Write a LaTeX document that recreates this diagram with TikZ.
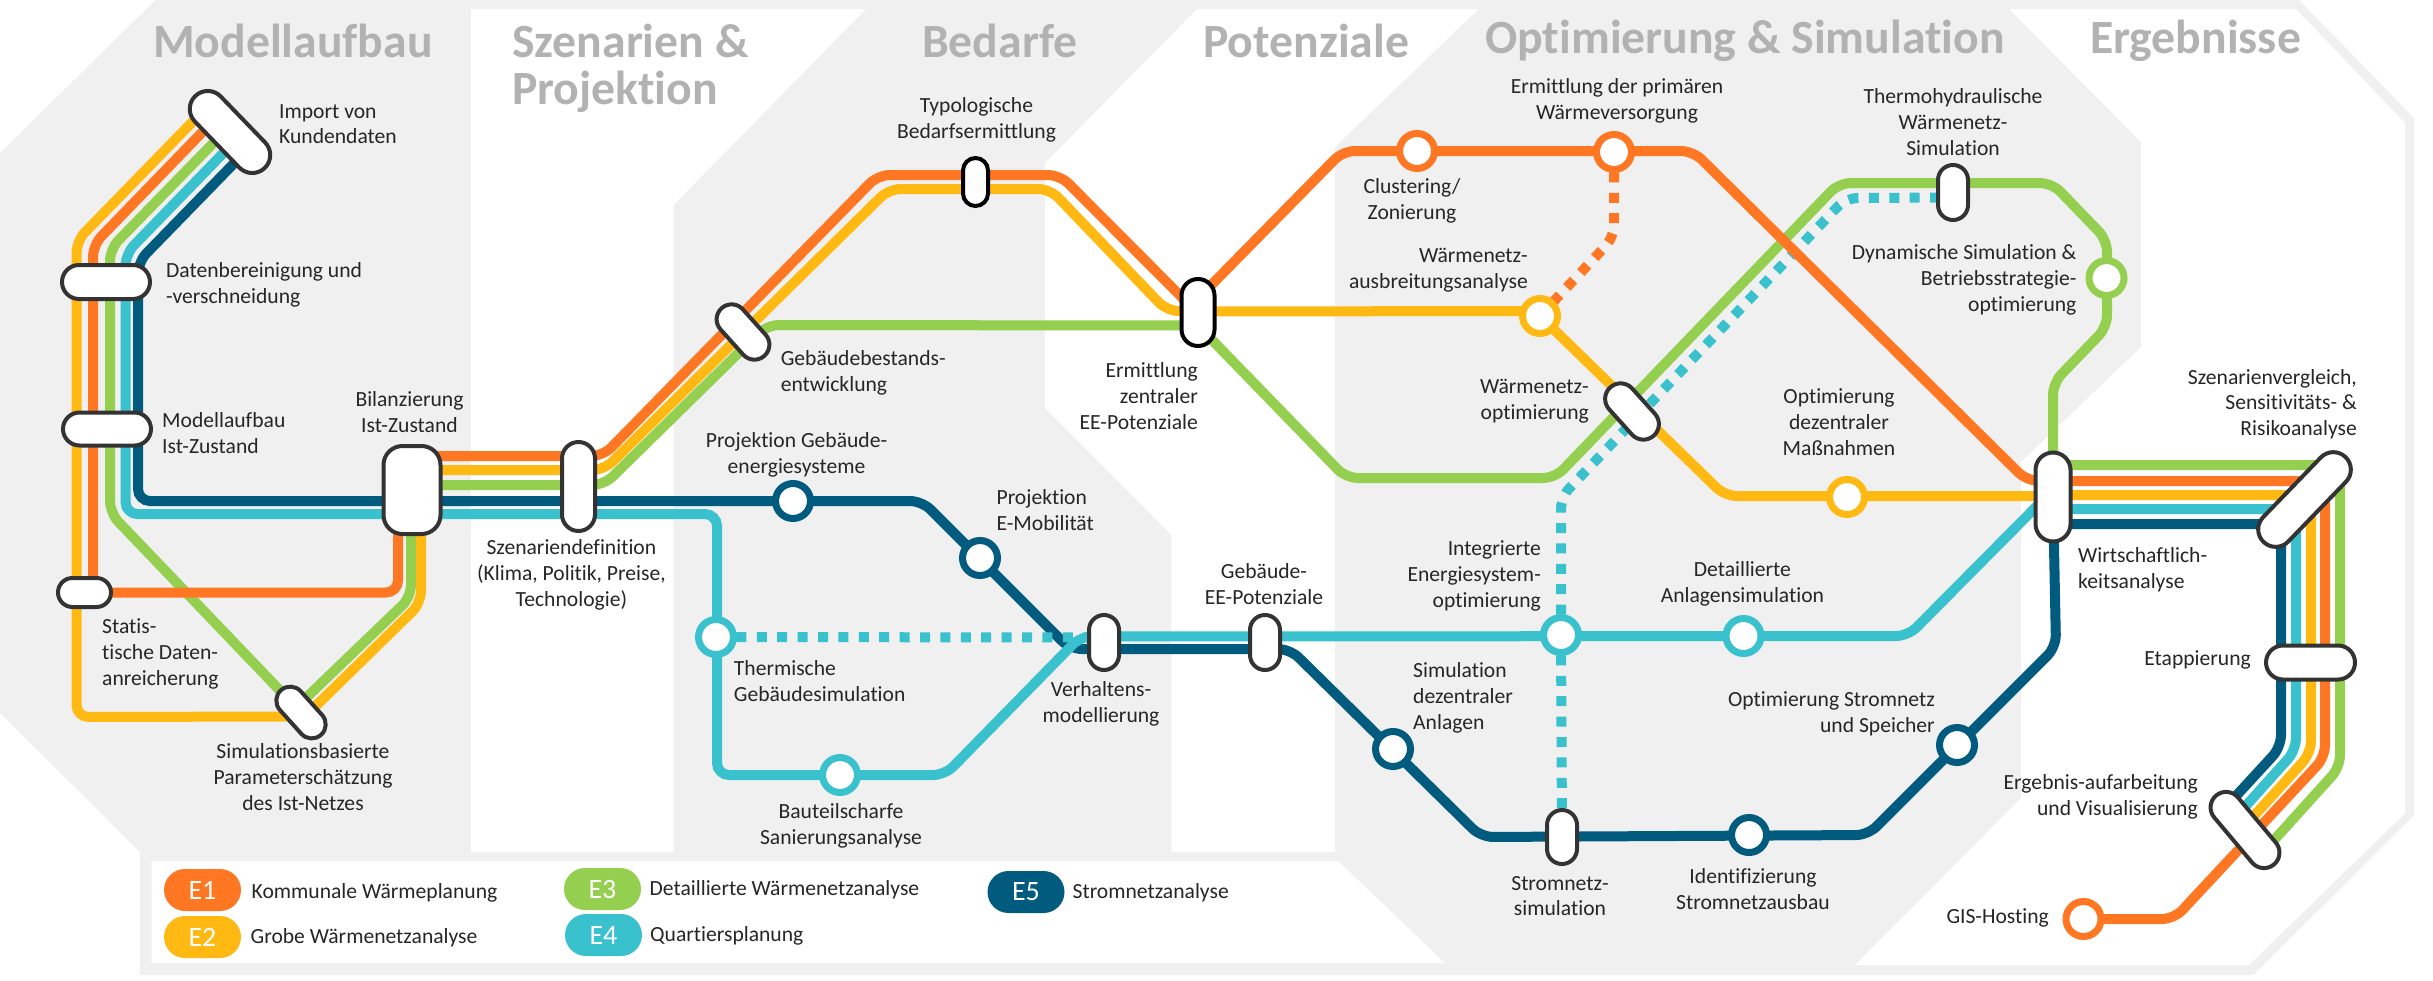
\documentclass[tikz,border=0pt]{standalone}
\usepackage{fontspec}
\setmainfont{Carlito}[Ligatures=CommonOff]
\usepackage{xcolor}
\usepackage{tikz}
\usetikzlibrary{shapes.misc}

\definecolor{eone}{HTML}{FF7722}
\definecolor{etwo}{HTML}{FFB912}
\definecolor{ethree}{HTML}{95CF4F}
\definecolor{efour}{HTML}{39C1CE}
\definecolor{efive}{HTML}{005B7F}
\definecolor{panelgray}{HTML}{F0F0F0}
\definecolor{titlegray}{HTML}{B2B2B2}
\definecolor{halterand}{HTML}{333333}

\pgfdeclarelayer{strecken}
\pgfsetlayers{strecken,main}

\tikzset{
  strecke/.style={line width=10pt, rounded corners=12pt},
  lineone/.style={strecke, draw=eone},
  linetwo/.style={strecke, draw=etwo},
  linethree/.style={strecke, draw=ethree},
  linefour/.style={strecke, draw=efour},
  linefive/.style={strecke, draw=efive},
  punkte/.style={dash pattern=on 10pt off 10.4pt},
  pill/.style n args={3}{rounded rectangle, draw=halterand, line width=4pt, fill=white,
    inner sep=0pt, minimum width=#1, minimum height=#2, rotate=#3},
  halt/.style={circle, draw=#1, line width=7pt, fill=white, inner sep=0pt, minimum size=35pt},
  lbl/.style={font=\fontsize{21.6}{25.7}\selectfont, inner sep=0pt, align=center, text=black!85},
  lbll/.style={lbl, align=left, anchor=west},
  lblr/.style={lbl, align=right, anchor=east},
  heading/.style={font=\fontsize{47.7}{51}\selectfont\bfseries, text=titlegray, inner sep=0pt, anchor=west},
  legpill/.style={rounded rectangle, fill=#1, text=white, inner sep=0pt, minimum width=77pt,
    minimum height=42pt, font=\fontsize{28}{30}\selectfont},
}

\begin{document}
\begin{tikzpicture}[x=1pt,y=-1pt]
\useasboundingbox (0,0) rectangle (2433,980);

\begin{scope}
\node[heading] (tmodell) at (153,41) {Modellaufbau};
\node[heading] (tszen) at (512,41) {Szenarien \&};
\node[heading] (tproj) at (512,92) {Projektion};
\node[heading] (tbedarf) at (922,41) {Bedarfe};
\node[heading] (tpot) at (1203,41) {Potenziale};
\node[heading] (topt) at (1485,41) {Optimierung \& Simulation};
\node[heading] (terg) at (2090,41) {Ergebnisse};
\end{scope}

% stations
\node[pill={100}{36}{-46}] (import) at (230,132) {};
\node[pill={88}{34}{0}] (datab) at (106,282) {};
\node[pill={88}{33}{0}] (modell) at (107,429) {};
\node[pill={53}{29}{0}] (statist) at (84.5,592.5) {};
\node[pill={60}{28}{-48}] (simbas) at (301,712.5) {};
\node[rectangle, rounded corners=19pt, draw=halterand, line width=4pt, fill=white, minimum width=57pt, minimum height=88pt] (bilanz) at (412,490) {};
\node[pill={89}{33}{90}] (szen) at (578.5,486.5) {};
\node[pill={64}{30}{-48}] (gebest) at (743,332) {};
\node[pill={48}{25}{90}, draw=black] (typo) at (975.5,182) {};
\node[pill={67}{33}{90}, draw=black] (eezentral) at (1198,312.5) {};
\node[pill={55}{30}{90}] (verh) at (1104,642.5) {};
\node[pill={55}{30}{90}] (gebee) at (1265,642.5) {};
\node[pill={54}{30}{90}] (stromsim) at (1562,837) {};
\node[pill={65}{31}{-48}] (wopt) at (1632,411.5) {};
\node[pill={55}{30}{90}] (thermo) at (1953,192.5) {};
\node[pill={89}{35}{90}] (wirt) at (2053,497) {};
\node[pill={118}{35}{46}] (sens) at (2304.5,499.5) {};
\node[pill={89}{34}{0}] (etapp) at (2310.5,662.5) {};
\node[pill={90}{31}{-50}] (ergeb) at (2245,830) {};

\node[halt=efive] (projgeb) at (793,501) {};
\node[halt=efive] (emob) at (980,558) {};
\node[halt=efour] (thermgeb) at (716,637) {};
\node[halt=efour] (bauteil) at (840,775) {};
\node[halt=efour] (integr) at (1561,635) {};
\node[halt=efour] (anlagen) at (1743.5,636) {};
\node[halt=efive] (simdez) at (1393,749) {};
\node[halt=efive] (optstrom) at (1957,745) {};
\node[halt=efive] (ident) at (1749,835) {};
\node[halt=eone] (gis) at (2083.5,919) {};
\node[halt=eone] (cluster) at (1417,151) {};
\node[halt=eone] (primaer) at (1614,152) {};
\node[halt=etwo] (wausb) at (1540,316) {};
\node[halt=etwo] (optdez) at (1847,497) {};
\node[halt=ethree] (dynsim) at (2106.5,278) {};

\begin{pgfonlayer}{strecken}
\fill[panelgray] (155.6,0) -- (0,153) -- (0,713) -- (140,852) -- (140,975) -- (2253.5,975) -- (2414,815) -- (2414,118) -- (2299,0) -- cycle;
\fill[white] (471,9) -- (866,9) -- (673.5,205) -- (673.5,852) -- (471,852) -- cycle;
\fill[white] (1197,9) -- (1045,163) -- (1045,408) -- (1171.4,535) -- (1171.4,852) -- (1335,852) -- (1335,147) -- (1478.6,9) -- cycle;
\fill[white] (2009,9) -- (2296,9) -- (2405,123) -- (2405,813) -- (2249,965) -- (1855,965) -- (2021,798) -- (2021,462) -- (2141,347) -- (2141,142) -- cycle;
\fill[white] (151.5,861) -- (1338,861) -- (1445,963) -- (151.5,963) -- cycle;

% E5
\draw[linefive] ([shift={(17.5,17.5)}]import.center) -- (138,262) -- (138,501) -- (922,501) -- (1070,649) -- ([shift={(0,6.5)}]verh.center);
\draw[linefive] ([shift={(0,6.5)}]verh.center) -- (1290,649) -- (1481,837) -- (1868,835) -- (2056,647) -- (wirt.center);
\draw[linefive] ([shift={(0,27)}]wirt.center) -- (2281,524) -- (2281,747) -- ([shift={(-21,-21)}]ergeb.center);
% E3
\draw[linethree] ([shift={(-3,-3)}]import.center) -- (110,249) -- (110,513) -- (simbas.center);
\draw[linethree] ([shift={(-5,-5)}]simbas.center) -- (411,597) -- ([shift={(-1,0)}]bilanz.center);
\draw[linethree] ([shift={(0,-5)}]bilanz.center) -- (604,485) -- (767,325) -- ([shift={(0,13)}]eezentral.center);
\draw[linethree] ([shift={(0,13)}]eezentral.center) -- (1346,478) -- (1555,478) -- (1839,183) -- (2052,183) -- (2107,240) -- (2107,327) -- (2053,383) -- (wirt.center);
\draw[linethree] ([shift={(0,-32)}]wirt.center) -- (2340,465) -- (2340,767) -- ([shift={(20,20)}]ergeb.center);
% E4
\draw[linefour] ([shift={(7,7)}]import.center) -- (125.5,254) -- (125.5,514) -- (717,514) -- (717,775) -- (945,775) -- (1081,636) -- ([shift={(0,-6)}]verh.center);
\draw[linefour] ([shift={(0,-6)}]verh.center) -- (1908,636) -- (2033,510) -- ([shift={(0,-7)}]wirt.center);
\draw[linefour] ([shift={(0,12)}]wirt.center) -- (2296,509) -- (2296,750) -- ([shift={(-11,-11)}]ergeb.center);
\draw[linefour, punkte] (thermgeb.center) -- ([shift={(0,-5)}]verh.center);
\draw[linefour, punkte] (integr.center) -- (stromsim.center);
\draw[linefour, punkte] (integr.center) -- (1561,497) -- (1846,198) -- ([shift={(0,5)}]thermo.center);
% E2
\draw[linetwo] ([shift={(-24,-24)}]import.center) -- (76.5,241) -- (76.5,717) -- ([shift={(0,4)}]simbas.center);
\draw[linetwo] ([shift={(4,4)}]simbas.center) -- (421,603) -- ([shift={(9,0)}]bilanz.center);
\draw[linetwo] ([shift={(0,-20)}]bilanz.center) -- (604,470) -- (889,189) -- (1050,189) -- (1167,311) -- ([shift={(0,-1)}]eezentral.center);
\draw[linetwo] ([shift={(0,-1)}]eezentral.center) -- ([shift={(0,-5)}]wausb.center);
\draw[linetwo] (wausb.center) -- (1725,496) -- ([shift={(0,-1)}]wirt.center);
\draw[linetwo] ([shift={(0,-2)}]wirt.center) -- (2311,495) -- (2311,753) -- ([shift={(-2,-2)}]ergeb.center);
% E1
\draw[lineone] ([shift={(-14,-14)}]import.center) -- (93,245) -- ([shift={(8.5,0)}]statist.center);
\draw[lineone] (statist.center) -- (398,592.5) -- ([shift={(-14,0)}]bilanz.center);
\draw[lineone] ([shift={(0,-34)}]bilanz.center) -- (603,456) -- (878,175) -- (1060,175) -- ([shift={(0,1)}]eezentral.center);
\draw[lineone] ([shift={(0,-14)}]eezentral.center) -- (1343,151) -- (1693,151) -- (2027,481) -- ([shift={(0,-16)}]wirt.center);
\draw[lineone] ([shift={(0,-16)}]wirt.center) -- (2325,481) -- (2325,757) -- (2174,919) -- (gis.center);
\draw[lineone, punkte] (primaer.center) -- (1614,237) -- (wausb.center);
\end{pgfonlayer}

% labels
\node[lbll] (limport) at (279,124) {Import von\\Kundendaten};
\node[lbll] (ldatab) at (166,285) {Datenbereinigung und\\-verschneidung};
\node[lbll] (lmodell) at (162,433) {Modellaufbau\\Ist-Zustand};
\node[lbl] (lbilanz) at (409.5,412) {Bilanzierung\\Ist-Zustand};
\node[lbll] (lstatist) at (102,654) {Statis-\\tische Daten-\\anreicherung};
\node[lbl] (lsimbas) at (303,777) {Simulationsbasierte\\Parameterschätzung\\des Ist-Netzes};
\node[lbl] (lszen) at (571.4,575) {Szenariendefinition\\(Klima, Politik, Preise,\\Technologie)};
\node[lbl] (lprojgeb) at (796.5,455) {Projektion Gebäude-\\energiesysteme};
\node[lbll] (lemob) at (996.4,510) {Projektion\\E-Mobilität};
\node[lbll] (lthermgeb) at (733.7,681) {Thermische\\Gebäudesimulation};
\node[lbl] (lbauteil) at (841,826) {Bauteilscharfe\\Sanierungsanalyse};
\node[lbl] (lverh) at (1101,704) {Verhaltens-\\modellierung};
\node[lbl] (lgebee) at (1264,584) {Gebäude-\\EE-Potenziale};
\node[lblr] (lintegr) at (1541,576) {Integrierte\\Energiesystem-\\optimierung};
\node[lbl] (lanlagen) at (1742.4,584) {Detaillierte\\Anlagensimulation};
\node[lbll] (lsimdez) at (1413,698) {Simulation\\dezentraler\\Anlagen};
\node[lblr] (loptstrom) at (1935,714) {Optimierung Stromnetz\\und Speicher};
\node[lbl] (lstromsim) at (1560,896) {Stromnetz-\\simulation};
\node[lbl] (lident) at (1753,889) {Identifizierung\\Stromnetzausbau};
\node[lblr] (lgis) at (2049,918) {GIS-Hosting};
\node[lblr] (lergeb) at (2198,797) {Ergebnis-aufarbeitung\\und Visualisierung};
\node[lblr] (letapp) at (2251,660) {Etappierung};
\node[lbll] (lwirt) at (2078,570) {Wirtschaftlich-\\keitsanalyse};
\node[lblr] (lsens) at (2357,404) {Szenarienvergleich,\\Sensitivitäts- \&\\Risikoanalyse};
\node[lbl] (loptdez) at (1839,422) {Optimierung\\dezentraler\\Maßnahmen};
\node[lblr] (ldynsim) at (2076.6,280) {Dynamische Simulation \&\\Betriebsstrategie-\\optimierung};
\node[lbl] (lthermo) at (1953,122) {Thermohydraulische\\Wärmenetz-\\Simulation};
\node[lbl] (lprimaer) at (1617,101) {Ermittlung der primären\\Wärmeversorgung};
\node[lbl] (lcluster) at (1412,201) {Clustering/\\Zonierung};
\node[lblr] (lwausb) at (1528,270) {Wärmenetz-\\ausbreitungsanalyse};
\node[lblr] (lwopt) at (1589,401) {Wärmenetz-\\optimierung};
\node[lbl] (ltypo) at (976.5,120) {Typologische\\Bedarfsermittlung};
\node[lbll] (lgebest) at (780.6,373) {Gebäudebestands-\\entwicklung};
\node[lblr] (leezentral) at (1198,396) {Ermittlung\\zentraler\\EE-Potenziale};

% legend
\node[legpill=eone] (legone) at (202.5,890) {E1};
\node[legpill=etwo] (legtwo) at (202.5,937) {E2};
\node[legpill=ethree] (legthree) at (602.5,889) {E3};
\node[legpill=efour] (legfour) at (603.5,935) {E4};
\node[legpill=efive] (legfive) at (1026,892) {E5};
\node[lbll] (txtone) at (251.5,893) {Kommunale Wärmeplanung};
\node[lbll] (txttwo) at (250.5,938) {Grobe Wärmenetzanalyse};
\node[lbll] (txtthree) at (649.5,890) {Detaillierte Wärmenetzanalyse};
\node[lbll] (txtfour) at (650,936) {Quartiersplanung};
\node[lbll] (txtfive) at (1072.4,893) {Stromnetzanalyse};
\end{tikzpicture}
\end{document}
